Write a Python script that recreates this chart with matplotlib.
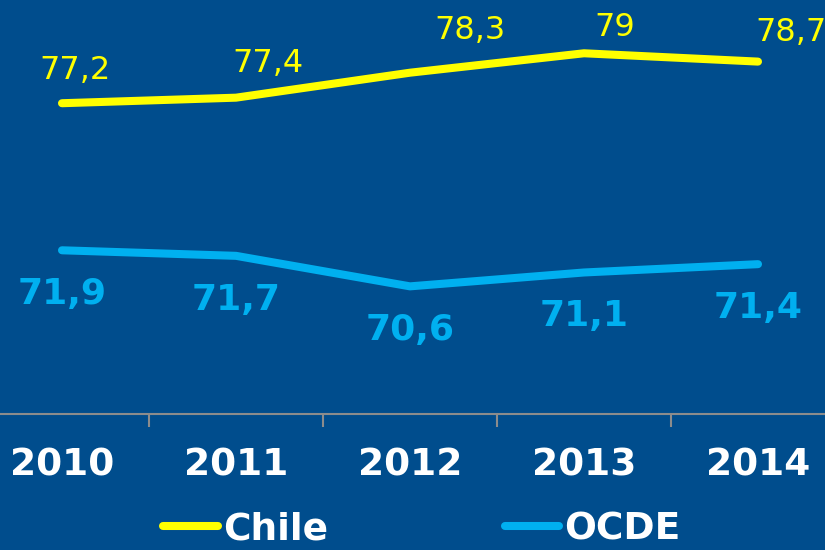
import matplotlib
matplotlib.use("Agg")
import matplotlib.pyplot as plt
import numpy as np

# data
years = ["2010", "2011", "2012", "2013", "2014"]
chile = [77.2, 77.4, 78.3, 79.0, 78.7]
ocde = [71.9, 71.7, 70.6, 71.1, 71.4]
chile_labels = ["77,2", "77,4", "78,3", "79", "78,7"]
ocde_labels = ["71,9", "71,7", "70,6", "71,1", "71,4"]

# label offsets in pixels (x, y) for the Chile labels
chile_off = [(13, 33), (32, 34), (60, 42), (31, 26), (33, 29)]

bg = "#004D8D"
yellow = "#FFFF00"
cyan = "#00B0F0"

fig = plt.figure(figsize=(8.25, 5.5), dpi=100, facecolor=bg)
# axes stretches slightly past the figure edges like the original
ax = fig.add_axes([-25 / 825, (550 - 414) / 550, 870 / 825, 414 / 550])
ax.set_facecolor(bg)

x = np.arange(len(years))
ax.plot(x, chile, color=yellow, lw=5.8, solid_capstyle="round", label="Chile")
ax.plot(x, ocde, color=cyan, lw=5.8, solid_capstyle="round", label="OCDE")

ax.set_xlim(-0.5, len(years) - 0.5)
ax.set_ylim(66, 80.92)

for i in range(len(years)):
    ax.annotate(chile_labels[i], (x[i], chile[i]), xytext=(chile_off[i][0] * 0.72, chile_off[i][1] * 0.72),
                textcoords="offset points", ha="center", va="center",
                color=yellow, fontsize=23)
    ax.annotate(ocde_labels[i], (x[i], ocde[i]), xytext=(0, -44 * 0.72),
                textcoords="offset points", ha="center", va="center",
                color=cyan, fontsize=26, fontweight="bold")

for s in ["top", "right", "left"]:
    ax.spines[s].set_visible(False)
ax.spines["bottom"].set_color("#8C8C8C")
ax.spines["bottom"].set_linewidth(1.5)
ax.set_yticks([])
ax.set_xticks(x)
ax.set_xticklabels(years, color="white", fontsize=27, fontweight="bold")
ax.tick_params(axis="x", which="major", length=0, pad=24)
ax.set_xticks(x[:-1] + 0.5, minor=True)
ax.tick_params(axis="x", which="minor", length=9, width=1.5, color="#8C8C8C", direction="out")

leg = fig.legend(loc="center", bbox_to_anchor=(422 / 825, 1 - 529 / 550), ncol=2,
                 frameon=False, handlelength=1.45, handletextpad=0.15, columnspacing=4.7,
                 borderpad=0, prop={"size": 27, "weight": "bold"})
for t in leg.get_texts():
    t.set_color("white")

plt.savefig("out.png", facecolor=bg)
